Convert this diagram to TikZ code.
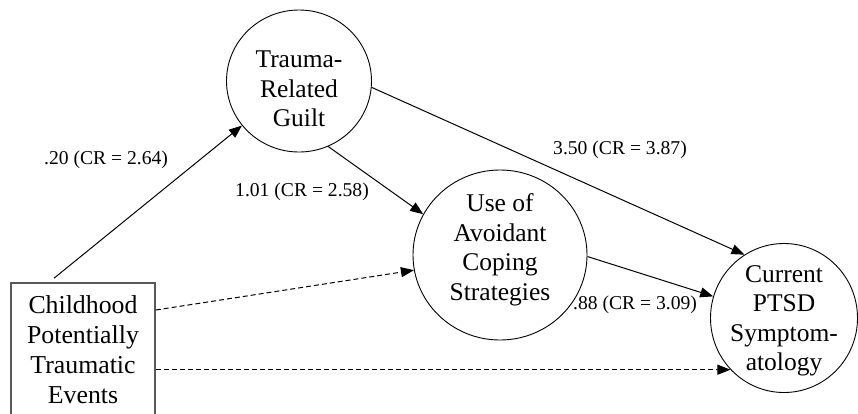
\documentclass[tikz,border=0pt]{standalone}
\usepackage{fontspec}
\setmainfont{Liberation Serif}
\usetikzlibrary{arrows.meta,shapes.geometric}
\begin{document}
\begin{tikzpicture}[x=1pt,y=-1pt,
  construct/.style={draw=black,line width=0.9pt,ellipse,inner sep=0pt},
  inner/.style={font=\fontsize{25.5}{29.5}\selectfont,align=center,inner sep=0pt},
  obsbox/.style={draw=black!65,line width=1.6pt,rectangle,inner sep=0pt,align=center,
    minimum width=144pt,minimum height=134pt,font=\fontsize{25.8}{30}\selectfont},
  path/.style={line width=1pt,-{Triangle[length=13pt,width=10pt]}},
  npath/.style={path,dash pattern=on 5pt off 3pt},
  coef/.style={font=\fontsize{19.6}{22}\selectfont,inner sep=0pt}]
\useasboundingbox[fill=white] (0,0) rectangle (858,413);

\node[construct,minimum width=145pt,minimum height=142pt] (guilt) at (299,81) {};
\node[inner] (guiltt) at (299,89) {Trauma-\\Related\\Guilt};

\node[construct,minimum width=174pt,minimum height=170pt] (avoid) at (500,255) {};
\node[inner] (avoidt) at (500,250) {Use of\\Avoidant\\Coping\\Strategies};

\node[construct,minimum width=147pt,minimum height=149pt] (ptsd) at (784,318) {};
\node[inner] (ptsdt) at (784,321) {Current\\PTSD\\Symptom-\\atology};

\node[obsbox] (events) at (83,350) {Childhood\\Potentially\\Traumatic\\Events};

\draw[path] ([shift={(-29pt,4pt)}]events.north) -- (guilt.218);
\draw[path] (guilt.294) -- (avoid.152);
\draw[path] (guilt.-5) -- (ptsd.122);
\draw[path] (avoid.-1) -- (ptsd.163);
\draw[npath] ([yshift=40pt]events.east) -- (avoid.190);
\draw[npath] (events.east |- ptsd.224) -- (ptsd.224);

\node[coef] (l1) at (106,160) {.20 (CR = 2.64)};
\node[coef] (l2) at (302,192) {1.01 (CR = 2.58)};
\node[coef] (l3) at (620,150) {3.50 (CR = 3.87)};
\node[coef] (l4) at (635,305) {.88 (CR = 3.09)};
\end{tikzpicture}
\end{document}
